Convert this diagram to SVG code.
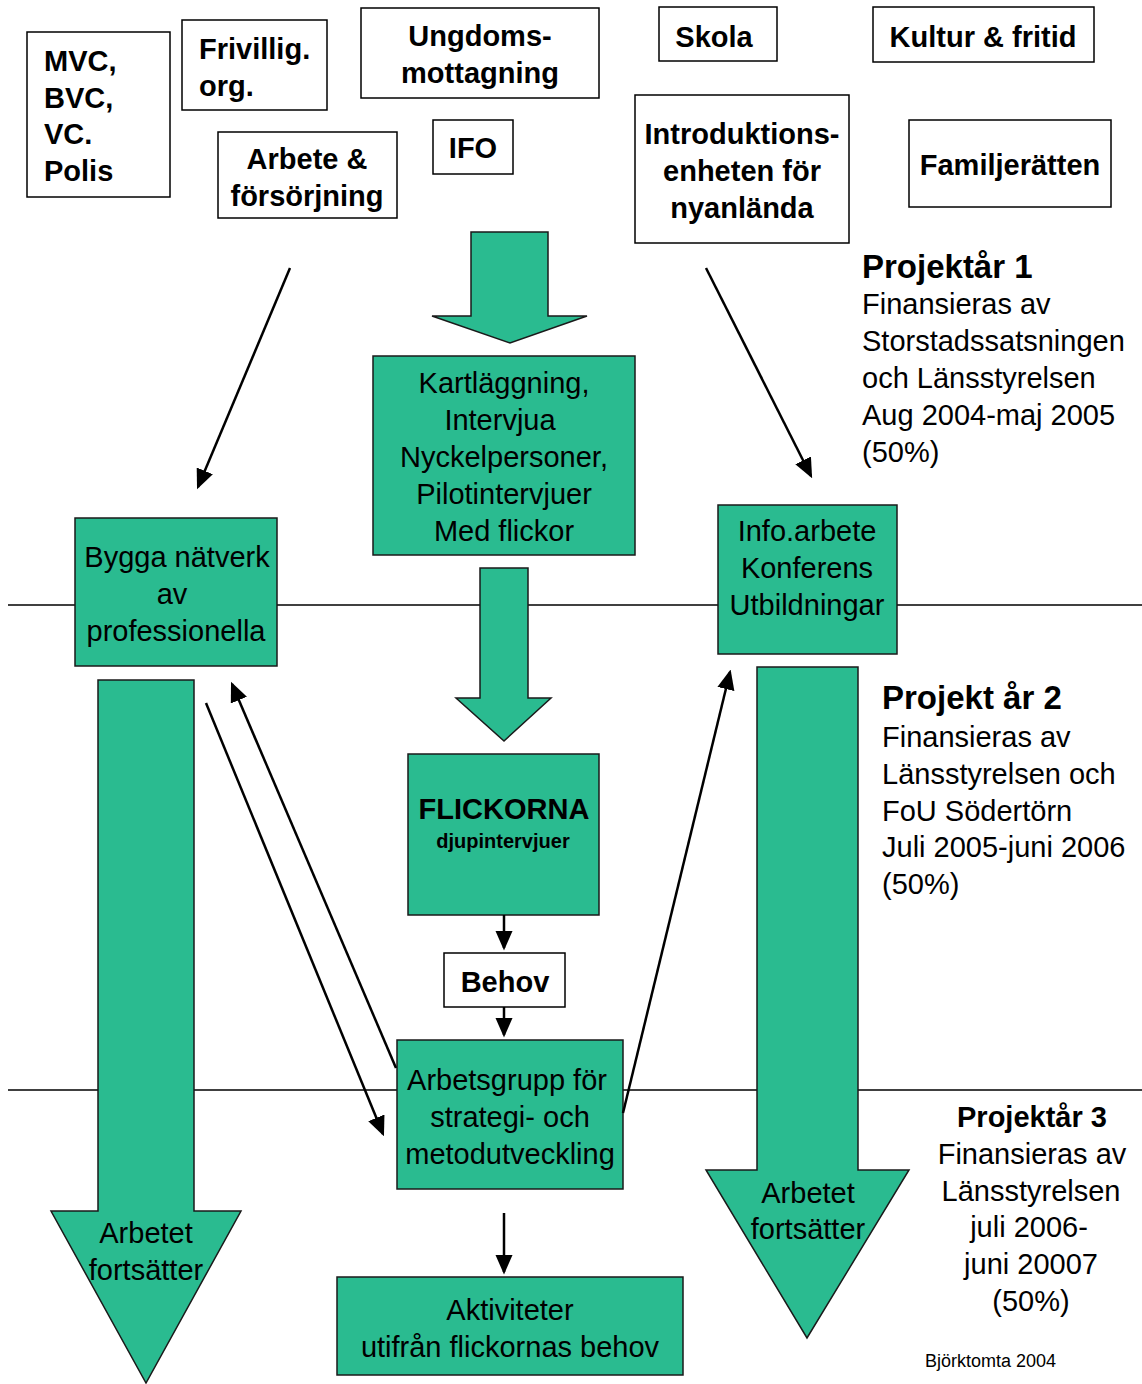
<svg xmlns="http://www.w3.org/2000/svg" width="1142" height="1384" viewBox="0 0 1142 1384">
<style>
.wb{fill:#fff;stroke:#000;stroke-width:1.5}
.gb{fill:#2abb90;stroke:#1a1a1a;stroke-width:1.5}
.bt{font-family:"Liberation Sans",Arial,sans-serif;font-weight:bold;font-size:29px;fill:#000}
.nt{font-family:"Liberation Sans",Arial,sans-serif;font-size:29px;fill:#000}
.c{text-anchor:middle}
.cn{stroke:#000;stroke-width:2.5;fill:none}
</style>
<defs>
<marker id="ah" markerWidth="8" markerHeight="7" refX="7" refY="3.5" orient="auto" markerUnits="strokeWidth">
<path d="M0,0 L8,3.5 L0,7 z" fill="#000"/>
</marker>
</defs>
<rect width="1142" height="1384" fill="#fff"/>
<g id="swimlanes">
<line x1="8" y1="605" x2="1142" y2="605" stroke="#000" stroke-width="1.5"/>
<line x1="8" y1="1090" x2="1142" y2="1090" stroke="#000" stroke-width="1.5"/>
</g>
<g id="n-mvc"><rect class="wb" x="27" y="32" width="143" height="165"/>
<text class="bt" x="44" y="71">MVC,</text><text class="bt" x="44" y="108">BVC,</text><text class="bt" x="44" y="144">VC.</text><text class="bt" x="44" y="181">Polis</text></g>
<g id="n-frivillig"><rect class="wb" x="182" y="20" width="145" height="90"/>
<text class="bt" x="199" y="59">Frivillig.</text><text class="bt" x="199" y="96">org.</text></g>
<g id="n-ungdom"><rect class="wb" x="361" y="8" width="238" height="90"/>
<text class="bt c" x="480" y="46">Ungdoms-</text><text class="bt c" x="480" y="83">mottagning</text></g>
<g id="n-skola"><rect class="wb" x="659" y="7" width="118" height="54"/>
<text class="bt c" x="714" y="47">Skola</text></g>
<g id="n-kultur"><rect class="wb" x="873" y="7" width="221" height="55"/>
<text class="bt c" x="983" y="47">Kultur &amp; fritid</text></g>
<g id="n-arbete"><rect class="wb" x="218" y="132" width="179" height="86"/>
<text class="bt c" x="307" y="169">Arbete &amp;</text><text class="bt c" x="307" y="206">försörjning</text></g>
<g id="n-ifo"><rect class="wb" x="433" y="120" width="80" height="54"/>
<text class="bt c" x="473" y="158">IFO</text></g>
<g id="n-intro"><rect class="wb" x="635" y="95" width="214" height="148"/>
<text class="bt c" x="742" y="144">Introduktions-</text><text class="bt c" x="742" y="181">enheten för</text><text class="bt c" x="742" y="218">nyanlända</text></g>
<g id="n-familj"><rect class="wb" x="909" y="120" width="202" height="87"/>
<text class="bt c" x="1010" y="175">Familjerätten</text></g>

<g id="n-arrow1"><path class="gb" d="M471,232 H548 V316 H587 L510,343 L432,316 H471 Z"/></g>
<g id="n-kartl"><rect class="gb" x="373" y="356" width="262" height="199"/>
<text class="nt c" x="504" y="393">Kartläggning,</text><text class="nt c" x="500" y="430">Intervjua</text><text class="nt c" x="504" y="467">Nyckelpersoner,</text><text class="nt c" x="504" y="504">Pilotintervjuer</text><text class="nt c" x="504" y="541">Med flickor</text></g>
<g id="n-arrow2"><path class="gb" d="M480,568 H528 V698 H551 L504,741 L456,698 H480 Z"/></g>
<g id="n-flick"><rect class="gb" x="408" y="754" width="191" height="161"/>
<text class="bt c" x="504" y="819">FLICKORNA</text><text class="bt c" x="503" y="848" style="font-size:20px">djupintervjuer</text></g>
<g id="n-behov"><rect class="wb" x="444" y="953" width="121" height="54"/>
<text class="bt c" x="505" y="992">Behov</text></g>
<g id="n-arbetsgrupp"><rect class="gb" x="397" y="1040" width="226" height="149"/>
<text class="nt c" x="507" y="1090">Arbetsgrupp för</text><text class="nt c" x="510" y="1127">strategi- och</text><text class="nt c" x="510" y="1164">metodutveckling</text></g>
<g id="n-aktiv"><rect class="gb" x="337" y="1277" width="346" height="98"/>
<text class="nt c" x="510" y="1320">Aktiviteter</text><text class="nt c" x="510" y="1357">utifrån flickornas behov</text></g>
<g id="n-bygga"><rect class="gb" x="75" y="518" width="202" height="148"/>
<text class="nt c" x="177" y="567">Bygga nätverk</text><text class="nt c" x="172" y="604">av</text><text class="nt c" x="176" y="641">professionella</text></g>
<g id="n-info"><rect class="gb" x="718" y="505" width="179" height="149"/>
<text class="nt c" x="807" y="541">Info.arbete</text><text class="nt c" x="807" y="578">Konferens</text><text class="nt c" x="807" y="615">Utbildningar</text></g>
<g id="n-leftarrow"><path class="gb" d="M98,680 H194 V1211 H241 L146,1383 L51,1211 H98 Z"/>
<text class="nt c" x="146" y="1243">Arbetet</text><text class="nt c" x="146" y="1280">fortsätter</text></g>
<g id="n-rightarrow"><path class="gb" d="M757,667 H858 V1170 H909 L807,1338 L706,1170 H757 Z"/>
<text class="nt c" x="808" y="1203">Arbetet</text><text class="nt c" x="808" y="1239">fortsätter</text></g>

<g id="connectors">
<line class="cn" x1="290" y1="268" x2="198" y2="487" marker-end="url(#ah)"/>
<line class="cn" x1="706" y1="268" x2="811" y2="476" marker-end="url(#ah)"/>
<line class="cn" x1="206" y1="703" x2="383" y2="1134" marker-end="url(#ah)"/>
<line class="cn" x1="396" y1="1068" x2="232" y2="684" marker-end="url(#ah)"/>
<line class="cn" x1="623" y1="1113" x2="730" y2="672" marker-end="url(#ah)"/>
<line class="cn" x1="504" y1="915" x2="504" y2="948" marker-end="url(#ah)"/>
<line class="cn" x1="504" y1="1007" x2="504" y2="1035" marker-end="url(#ah)"/>
<line class="cn" x1="504" y1="1213" x2="504" y2="1272" marker-end="url(#ah)"/>
</g>

<g id="year1">
<text class="bt" x="862" y="278" style="font-size:33px">Projektår 1</text>
<text class="nt" x="862" y="314">Finansieras av</text>
<text class="nt" x="862" y="351">Storstadssatsningen</text>
<text class="nt" x="862" y="388">och Länsstyrelsen</text>
<text class="nt" x="862" y="425">Aug 2004-maj 2005</text>
<text class="nt" x="862" y="462">(50%)</text>
</g>
<g id="year2">
<text class="bt" x="882" y="709" style="font-size:33px">Projekt år 2</text>
<text class="nt" x="882" y="747">Finansieras av</text>
<text class="nt" x="882" y="784">Länsstyrelsen och</text>
<text class="nt" x="882" y="821">FoU Södertörn</text>
<text class="nt" x="882" y="857">Juli 2005-juni 2006</text>
<text class="nt" x="882" y="894">(50%)</text>
</g>
<g id="year3">
<text class="bt c" x="1032" y="1127">Projektår 3</text>
<text class="nt c" x="1032" y="1164">Finansieras av</text>
<text class="nt c" x="1031" y="1201">Länsstyrelsen</text>
<text class="nt c" x="1029" y="1237">juli 2006-</text>
<text class="nt c" x="1031" y="1274">juni 20007</text>
<text class="nt c" x="1031" y="1311">(50%)</text>
</g>
<text x="925" y="1367" style="font-family:'Liberation Sans',Arial,sans-serif;font-size:18px;fill:#000">Björktomta 2004</text>
</svg>
